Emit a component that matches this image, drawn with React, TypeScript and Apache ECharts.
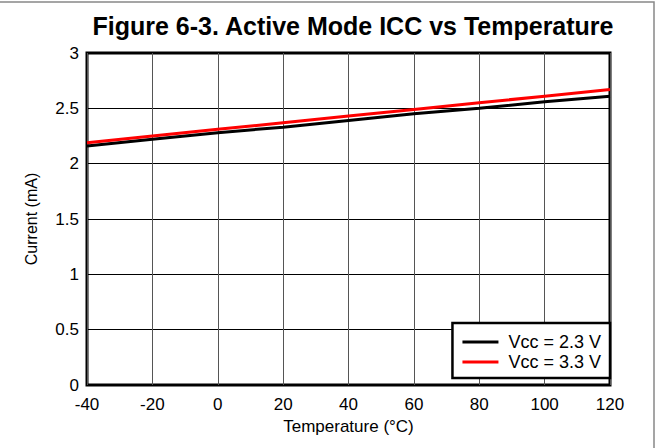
import React, { useEffect, useRef } from "react";
import * as echarts from "echarts";

const temps = [-40, -20, 0, 20, 40, 60, 80, 100, 120];
const vcc23 = [2.16, 2.22, 2.28, 2.33, 2.39, 2.45, 2.5, 2.56, 2.61];
const vcc33 = [2.19, 2.25, 2.31, 2.37, 2.43, 2.49, 2.55, 2.61, 2.67];
const seriesNames = ["Vcc = 2.3 V", "Vcc = 3.3 V"];
const titleText = "Figure 6-3. Active Mode ICC vs Temperature";
const xName = "Temperature (°C)";
const yName = "Current (mA)";

export default function App() {
  const ref = useRef<HTMLDivElement>(null);
  useEffect(() => {
    if (!ref.current) return;
    const chart = echarts.init(ref.current, undefined, { renderer: "svg" });
    const font = "Arial, 'Liberation Sans', sans-serif";
    chart.setOption({
      animation: false,
      backgroundColor: "#fff",
      textStyle: { fontFamily: font },
      title: {
        text: titleText,
        left: 348,
        top: 8,
        textAlign: "center",
        textStyle: { fontSize: 25, fontWeight: "bold", color: "#000", fontFamily: font },
      },
      graphic: [
        {
          type: "polyline",
          shape: { points: [[-2, 2], [654, 2], [654, 460]] },
          style: { stroke: "#888", lineWidth: 1.5, fill: "none" },
          silent: true,
        },
      ],
      grid: {
        left: 87,
        top: 53,
        right: 49,
        bottom: 63,
        show: true,
        borderColor: "#000",
        borderWidth: 3,
        backgroundColor: "transparent",
      },
      legend: {
        data: seriesNames.map((n) => ({ name: n, icon: "rect" })),
        orient: "vertical",
        right: 49,
        bottom: 70,
        itemWidth: 36,
        itemHeight: 3,
        itemGap: 2,
        padding: [10, 9, 7, 10],
        borderColor: "#000",
        borderWidth: 2.5,
        backgroundColor: "#fff",
        textStyle: { fontSize: 18, color: "#000", fontFamily: font, padding: [0, 0, 0, 5] },
      },
      xAxis: {
        type: "value",
        min: -40,
        max: 120,
        interval: 20,
        name: xName,
        nameLocation: "middle",
        nameGap: 31,
        nameTextStyle: { fontSize: 17, color: "#000", fontFamily: font },
        axisLine: { show: false },
        axisTick: { show: false },
        axisLabel: { fontSize: 17, color: "#000", margin: 11, fontFamily: font },
        splitLine: { show: true, lineStyle: { color: "#555", width: 1 } },
      },
      yAxis: {
        type: "value",
        min: 0,
        max: 3,
        interval: 0.5,
        name: yName,
        nameLocation: "middle",
        nameGap: 48,
        nameTextStyle: { fontSize: 16, color: "#000", fontFamily: font },
        axisLine: { show: false },
        axisTick: { show: false },
        axisLabel: { fontSize: 17, color: "#000", margin: 8, fontFamily: font },
        splitLine: { show: true, lineStyle: { color: "#000", width: 1 } },
      },
      series: [
        {
          name: seriesNames[0],
          type: "line",
          data: temps.map((t, i) => [t, vcc23[i]]),
          showSymbol: false,
          lineStyle: { color: "#000", width: 3 },
          itemStyle: { color: "#000" },
        },
        {
          name: seriesNames[1],
          type: "line",
          data: temps.map((t, i) => [t, vcc33[i]]),
          showSymbol: false,
          lineStyle: { color: "#ff0000", width: 3 },
          itemStyle: { color: "#ff0000" },
        },
      ],
    });
    return () => chart.dispose();
  }, []);
  return (
    <div
      ref={ref}
      style={{ position: "fixed", left: 0, top: 0, width: 659, height: 448 }}
    />
  );
}
